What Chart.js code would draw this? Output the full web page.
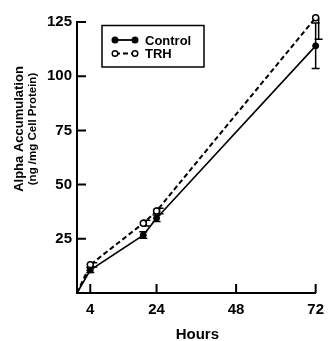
<!DOCTYPE html>
<html>
<head>
<meta charset="utf-8">
<script src="https://cdn.jsdelivr.net/npm/chart.js@4/dist/chart.umd.min.js"></script>
<style>
  html, body { margin: 0; padding: 0; background: #fff; }
  #wrap { width: 332px; height: 341px; position: relative; }
</style>
</head>
<body>
<div id="wrap"><canvas id="myChart"></canvas></div>
<script>
// data
const hours = [0, 4, 20, 24, 72];
const controlValues = [0, 10.6, 26.7, 34.5, 114];
const controlErrLow = [0, 1.2, 1.5, 1.5, 10.5];
const controlErrHigh = [0, 1.2, 1.5, 1.5, 10.5];
const trhValues = [0, 13, 32.2, 37.8, 127];
const trhErrLow = [0, 1, 1.3, 1.3, 10];
const trhErrHigh = [0, 1, 1.3, 1.3, 0];
const xTicks = [4, 24, 48, 72];
const yTicks = [25, 50, 75, 100, 125];
const seriesNames = ['Control', 'TRH'];
const xTitle = 'Hours';
const yTitle = 'Alpha Accumulation';
const ySubTitle = '(ng /mg Cell Protein)';

const FONT = "'Liberation Sans', Arial, sans-serif";

let ctx = document.getElementById('myChart').getContext('2d');

// error bars, drawn before the markers so open circles sit on top
const errorBars = {
  id: 'errorBars',
  beforeDatasetsDraw(chart) {
    const c = chart.ctx;
    const y = chart.scales.y;
    chart.data.datasets.forEach((ds, di) => {
      const meta = chart.getDatasetMeta(di);
      meta.data.forEach((pt, i) => {
        const lo = ds.errLow[i], hi = ds.errHigh[i];
        if (!lo && !hi) return;
        const x = pt.x + ds.errShift;
        const yLo = y.getPixelForValue(ds.data[i].y - lo);
        const yHi = y.getPixelForValue(ds.data[i].y + hi);
        c.save();
        c.strokeStyle = '#000';
        c.lineWidth = 1.5;
        c.beginPath();
        c.moveTo(x, yLo); c.lineTo(x, yHi);
        if (lo) { c.moveTo(x - 4, yLo); c.lineTo(x + 4, yLo); }
        if (hi) { c.moveTo(x - 4, yHi); c.lineTo(x + 4, yHi); }
        c.stroke();
        c.restore();
      });
    });
  }
};

// inward tick marks, titles and the boxed legend
const decorations = {
  id: 'decorations',
  afterDraw(chart) {
    const c = chart.ctx;
    const xs = chart.scales.x, ys = chart.scales.y;
    const area = chart.chartArea;
    c.save();
    c.strokeStyle = '#000';
    c.lineWidth = 2;
    c.beginPath();
    ys.ticks.forEach(t => {
      const py = ys.getPixelForValue(t.value);
      c.moveTo(area.left, py); c.lineTo(area.left + 9, py);
    });
    xs.ticks.forEach(t => {
      const px = xs.getPixelForValue(t.value);
      c.moveTo(px, area.bottom); c.lineTo(px, area.bottom - 9);
    });
    c.stroke();

    c.fillStyle = '#000';
    c.textAlign = 'center';
    c.textBaseline = 'middle';
    c.font = 'bold 15px ' + FONT;
    c.fillText(xTitle, (area.left + area.right) / 2 + 1, 335);

    c.save();
    c.translate(19, 129);
    c.rotate(-Math.PI / 2);
    c.font = 'bold 13px ' + FONT;
    c.fillText(yTitle, 0, 0);
    c.restore();
    c.save();
    c.translate(33, 129);
    c.rotate(-Math.PI / 2);
    c.font = 'bold 11.5px ' + FONT;
    c.fillText(ySubTitle, 0, 0);
    c.restore();

    // legend
    c.lineWidth = 1.5;
    c.strokeRect(102, 25.5, 102, 41.5);
    chart.data.datasets.forEach((ds, i) => {
      const ly = 40 + i * 13.5;
      c.beginPath();
      c.setLineDash(ds.borderDash || []);
      c.lineWidth = 1.8;
      c.moveTo(115, ly); c.lineTo(135, ly);
      c.stroke();
      c.setLineDash([]);
      [115, 135].forEach(px => {
        c.beginPath();
        c.arc(px, ly, 2.8, 0, Math.PI * 2);
        c.fillStyle = ds.pointBackgroundColor;
        c.fill();
        c.lineWidth = 1.4;
        c.stroke();
      });
      c.fillStyle = '#000';
      c.textAlign = 'left';
      c.font = 'bold 13px ' + FONT;
      c.fillText(ds.label, 145, ly + 1);
    });
    c.restore();
  }
};

function points(vals) {
  return hours.map((h, i) => ({ x: h, y: vals[i] }));
}

const config = {
  type: 'line',
  data: {
    datasets: [{
      label: seriesNames[0],
      data: points(controlValues),
      errLow: controlErrLow,
      errHigh: controlErrHigh,
      errShift: 0,
      borderColor: '#000',
      borderWidth: 1.6,
      pointRadius: [0, 3, 3, 3, 3],
      pointBackgroundColor: '#000',
      pointBorderColor: '#000',
      pointBorderWidth: 1,
      tension: 0,
      clip: false
    }, {
      label: seriesNames[1],
      data: points(trhValues),
      errLow: trhErrLow,
      errHigh: trhErrHigh,
      errShift: 3,
      borderColor: '#000',
      borderWidth: 2,
      borderDash: [5, 3],
      pointRadius: [0, 3, 3, 3, 3],
      pointBackgroundColor: '#fff',
      pointBorderColor: '#000',
      pointBorderWidth: 1.5,
      tension: 0,
      clip: false
    }]
  },
  options: {
    responsive: true,
    maintainAspectRatio: false,
    animation: false,
    layout: { padding: { left: 0, right: 11, top: 22, bottom: 0 } },
    plugins: { legend: { display: false }, tooltip: { enabled: false } },
    scales: {
      x: {
        type: 'linear',
        min: 0,
        max: 72,
        afterBuildTicks: s => { s.ticks = xTicks.map(v => ({ value: v })); },
        afterFit: s => { s.height = 48; },
        grid: { drawOnChartArea: false, drawTicks: false },
        border: { color: '#000', width: 2 },
        ticks: { color: '#000', padding: 8, font: { family: FONT, size: 15, weight: 'bold' } }
      },
      y: {
        min: 0,
        max: 125,
        afterBuildTicks: s => { s.ticks = yTicks.map(v => ({ value: v })); },
        afterFit: s => { s.width = 77; },
        grid: { drawOnChartArea: false, drawTicks: false },
        border: { color: '#000', width: 2 },
        ticks: { color: '#000', padding: 5, font: { family: FONT, size: 15, weight: 'bold' } }
      }
    }
  },
  plugins: [errorBars, decorations]
};

let myChart = new Chart(ctx, config);
</script>
</body>
</html>
